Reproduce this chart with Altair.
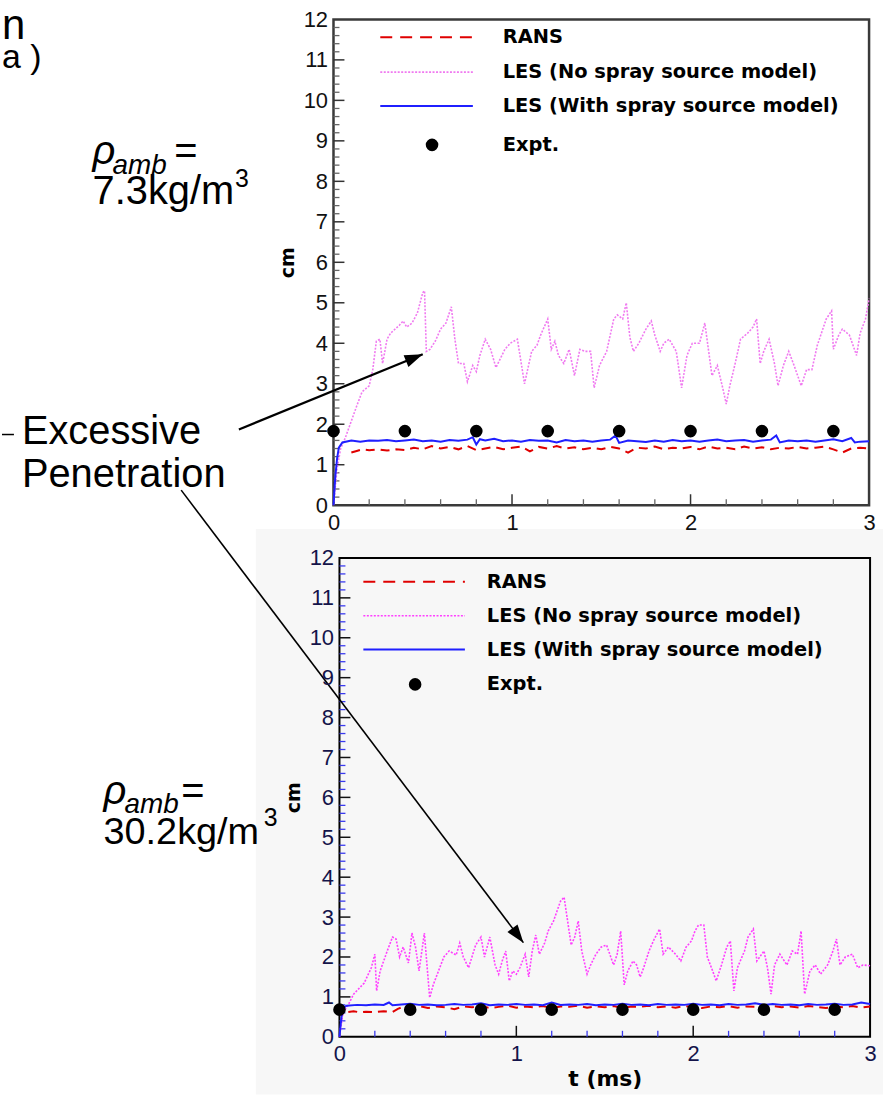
import math
import altair as alt
import pandas as pd

# ---------------- data ----------------
TOP_LES_T = [0, 0.02, 0.04, 0.065, 0.13, 0.16, 0.2, 0.22, 0.24, 0.26, 0.275, 0.3, 0.32, 0.37, 0.39, 0.41, 0.44, 0.47, 0.5, 0.51,
             0.52, 0.54, 0.57, 0.6, 0.63, 0.66, 0.68, 0.7, 0.73, 0.75, 0.78, 0.8, 0.82, 0.85, 0.88, 0.91, 0.96, 0.99, 1.03, 1.07,
             1.11, 1.14, 1.16, 1.2, 1.22, 1.24, 1.26, 1.29, 1.32, 1.35, 1.38, 1.41, 1.44, 1.46, 1.49, 1.53, 1.57, 1.59, 1.62, 1.64,
             1.66, 1.68, 1.71, 1.75, 1.78, 1.8, 1.83, 1.85, 1.88, 1.92, 1.95, 1.98, 2.01, 2.05, 2.08, 2.1, 2.12, 2.15, 2.18, 2.2,
             2.22, 2.25, 2.28, 2.32, 2.35, 2.37, 2.39, 2.41, 2.44, 2.47, 2.49, 2.52, 2.55, 2.58, 2.62, 2.65, 2.68, 2.71, 2.76, 2.79,
             2.8, 2.83, 2.85, 2.89, 2.91, 2.93, 2.95, 2.98, 3.0]
TOP_LES_Y = [0, 0.9, 1.4, 1.65, 2.45, 2.8, 2.95, 3.35, 4.05, 4.1, 3.5, 4.1, 4.25, 4.45, 4.55, 4.4, 4.5, 4.75, 5.25, 5.3,
             3.8, 3.85, 4.05, 4.35, 4.5, 4.9, 4.1, 3.5, 3.5, 3.05, 3.45, 3.3, 3.7, 4.1, 3.85, 3.4, 3.85, 4.0, 4.1, 3.0,
             3.8, 3.95, 4.2, 4.6, 3.85, 4.05, 3.7, 3.5, 3.85, 3.2, 3.85, 3.8, 3.8, 2.9, 3.45, 3.8, 4.6, 4.7, 4.6, 5.0,
             4.15, 3.8, 4.0, 4.35, 4.55, 4.2, 3.8, 4.0, 4.1, 3.8, 2.9, 3.7, 4.0, 4.0, 4.5, 3.85, 3.2, 3.45, 2.9, 2.5,
             2.95, 3.5, 4.1, 4.25, 4.4, 4.6, 3.5, 3.8, 4.1, 3.5, 2.95, 3.45, 3.8, 3.45, 2.95, 3.35, 3.35, 3.95, 4.6, 4.8,
             3.85, 4.2, 4.35, 4.2, 3.95, 3.7, 4.25, 4.6, 5.1]

TOP_BLUE_T = [0, 0.01, 0.02, 0.03, 0.05, 0.1, 0.15, 0.2, 0.25, 0.3, 0.35, 0.4, 0.45, 0.5, 0.55, 0.6, 0.65, 0.7, 0.75, 0.78,
              0.8, 0.82, 0.85, 0.9, 0.95, 1.0, 1.05, 1.1, 1.15, 1.2, 1.25, 1.3, 1.35, 1.4, 1.45, 1.5, 1.55, 1.58, 1.6, 1.65,
              1.7, 1.75, 1.8, 1.85, 1.9, 1.95, 2.0, 2.05, 2.1, 2.15, 2.2, 2.25, 2.3, 2.35, 2.4, 2.45, 2.48, 2.5, 2.55, 2.6,
              2.65, 2.7, 2.75, 2.8, 2.85, 2.9, 2.92, 2.95, 3.0]
TOP_BLUE_Y = [0, 0.7, 1.15, 1.42, 1.55, 1.6, 1.57, 1.6, 1.59, 1.61, 1.58, 1.6, 1.62, 1.58, 1.6, 1.57, 1.61, 1.59, 1.62, 1.68,
              1.5, 1.63, 1.6, 1.64, 1.58, 1.6, 1.57, 1.61, 1.59, 1.6, 1.55, 1.61, 1.58, 1.6, 1.57, 1.6, 1.62, 1.72, 1.54, 1.6,
              1.58, 1.56, 1.6, 1.57, 1.61, 1.58, 1.6, 1.57, 1.6, 1.62, 1.58, 1.6, 1.61, 1.57, 1.6, 1.62, 1.72, 1.55, 1.6, 1.58,
              1.6, 1.57, 1.6, 1.63, 1.58, 1.66, 1.55, 1.57, 1.58]

TOP_RANS_T = [0.1, 0.13, 0.16, 0.2, 0.25, 0.3, 0.35, 0.4, 0.45, 0.5, 0.55, 0.6, 0.65, 0.7, 0.75, 0.8, 0.85, 0.9, 0.95, 1.0,
              1.05, 1.1, 1.15, 1.2, 1.25, 1.3, 1.35, 1.4, 1.45, 1.5, 1.55, 1.6, 1.65, 1.7, 1.75, 1.8, 1.85, 1.9, 1.95, 2.0,
              2.05, 2.1, 2.15, 2.2, 2.25, 2.3, 2.35, 2.4, 2.45, 2.5, 2.55, 2.6, 2.65, 2.7, 2.75, 2.8, 2.85, 2.9, 2.95, 3.0]
TOP_RANS_Y = [1.3, 1.34, 1.38, 1.36, 1.38, 1.35, 1.38, 1.36, 1.42, 1.38, 1.46, 1.4, 1.44, 1.38, 1.46, 1.36, 1.4, 1.44, 1.38, 1.42,
              1.45, 1.33, 1.44, 1.4, 1.46, 1.4, 1.43, 1.38, 1.42, 1.38, 1.44, 1.4, 1.3, 1.42, 1.4, 1.45, 1.38, 1.42, 1.4, 1.44,
              1.38, 1.45, 1.4, 1.42, 1.38, 1.45, 1.4, 1.43, 1.38, 1.42, 1.4, 1.44, 1.4, 1.42, 1.45, 1.38, 1.3, 1.4, 1.42, 1.4]

BOT_LES_T = [0, 0.02, 0.05, 0.08, 0.14, 0.18, 0.2, 0.21, 0.23, 0.27, 0.3, 0.32, 0.34, 0.36, 0.39, 0.41, 0.43, 0.45, 0.48, 0.51,
             0.53, 0.56, 0.59, 0.62, 0.66, 0.68, 0.7, 0.73, 0.77, 0.8, 0.82, 0.85, 0.88, 0.9, 0.92, 0.94, 0.96, 0.98, 1.0, 1.02,
             1.05, 1.07, 1.09, 1.11, 1.13, 1.16, 1.18, 1.21, 1.23, 1.25, 1.27, 1.29, 1.31, 1.33, 1.35, 1.37, 1.4, 1.42, 1.45, 1.48,
             1.51, 1.55, 1.57, 1.59, 1.61, 1.63, 1.66, 1.68, 1.7, 1.72, 1.75, 1.78, 1.81, 1.83, 1.86, 1.9, 1.93, 1.96, 1.99, 2.01,
             2.03, 2.06, 2.08, 2.11, 2.13, 2.16, 2.19, 2.21, 2.23, 2.25, 2.29, 2.31, 2.34, 2.36, 2.4, 2.42, 2.44, 2.46, 2.49, 2.53,
             2.56, 2.59, 2.61, 2.63, 2.66, 2.69, 2.72, 2.76, 2.79, 2.81, 2.83, 2.86, 2.9, 2.93, 2.96, 3.0]
BOT_LES_Y = [0, 0.6, 0.8, 1.07, 1.35, 1.73, 2.07, 1.15, 1.65, 2.15, 2.5, 2.45, 2.0, 2.25, 1.85, 2.6, 2.25, 1.65, 2.6, 0.98,
             1.3, 1.65, 2.0, 2.15, 2.05, 2.35, 2.0, 1.73, 2.3, 2.5, 2.0, 2.5, 1.8, 1.57, 1.9, 2.15, 1.4, 1.65, 1.57, 1.73,
             2.07, 1.5, 2.15, 2.55, 2.07, 2.35, 2.65, 2.9, 3.15, 3.4, 3.5, 2.9, 2.3, 2.5, 2.9, 2.15, 1.57, 1.8, 2.07, 2.25,
             2.3, 1.8, 2.07, 2.65, 1.3, 1.65, 1.9, 1.8, 1.5, 1.73, 2.15, 2.45, 2.7, 2.07, 2.25, 2.07, 1.9, 2.25, 2.4, 2.65,
             2.8, 2.8, 2.0, 1.65, 1.4, 1.8, 2.25, 2.4, 1.15, 1.73, 2.15, 2.5, 2.7, 1.9, 2.15, 1.73, 1.07, 1.8, 2.07, 1.8,
             2.15, 2.07, 2.65, 1.07, 1.65, 1.8, 1.57, 1.8, 2.15, 2.45, 1.8, 2.0, 2.07, 1.73, 1.8, 1.78]

BOT_BLUE_T = [0, 0.01, 0.02, 0.04, 0.1, 0.15, 0.2, 0.25, 0.28, 0.3, 0.35, 0.4, 0.45, 0.5, 0.55, 0.6, 0.65, 0.7, 0.75, 0.8,
              0.85, 0.9, 0.95, 1.0, 1.05, 1.1, 1.15, 1.2, 1.25, 1.3, 1.35, 1.4, 1.45, 1.5, 1.55, 1.6, 1.65, 1.7, 1.75, 1.8,
              1.85, 1.9, 1.95, 2.0, 2.05, 2.1, 2.15, 2.2, 2.25, 2.3, 2.35, 2.4, 2.45, 2.5, 2.55, 2.6, 2.65, 2.7, 2.75, 2.8,
              2.85, 2.9, 2.95, 3.0]
BOT_BLUE_Y = [0, 0.45, 0.72, 0.78, 0.8, 0.79, 0.81, 0.8, 0.86, 0.79, 0.81, 0.83, 0.8, 0.81, 0.79, 0.8, 0.82, 0.8, 0.81, 0.84,
              0.79, 0.81, 0.8, 0.82, 0.8, 0.81, 0.79, 0.86, 0.8, 0.81, 0.8, 0.82, 0.79, 0.81, 0.8, 0.83, 0.8, 0.81, 0.79, 0.82,
              0.8, 0.81, 0.8, 0.83, 0.8, 0.81, 0.79, 0.82, 0.8, 0.81, 0.84, 0.8, 0.82, 0.8, 0.81, 0.79, 0.82, 0.8, 0.81, 0.83,
              0.8, 0.81, 0.86, 0.82]

BOT_RANS_T = [0.05, 0.08, 0.12, 0.15, 0.2, 0.25, 0.3, 0.33, 0.36, 0.4, 0.45, 0.5, 0.55, 0.6, 0.65, 0.7, 0.75, 0.8, 0.85, 0.9,
              0.95, 1.0, 1.05, 1.1, 1.15, 1.2, 1.25, 1.3, 1.35, 1.4, 1.45, 1.5, 1.55, 1.6, 1.65, 1.7, 1.75, 1.8, 1.85, 1.9,
              1.95, 2.0, 2.05, 2.1, 2.15, 2.2, 2.25, 2.3, 2.35, 2.4, 2.45, 2.5, 2.55, 2.6, 2.65, 2.7, 2.75, 2.8, 2.85, 2.9,
              2.95, 3.0]
BOT_RANS_Y = [0.62, 0.64, 0.61, 0.63, 0.62, 0.64, 0.62, 0.7, 0.75, 0.73, 0.77, 0.72, 0.76, 0.74, 0.69, 0.76, 0.74, 0.77, 0.72, 0.75,
              0.78, 0.73, 0.76, 0.74, 0.77, 0.72, 0.76, 0.75, 0.78, 0.73, 0.76, 0.74, 0.77, 0.72, 0.76, 0.75, 0.78, 0.74, 0.76, 0.73,
              0.77, 0.75, 0.72, 0.76, 0.74, 0.77, 0.73, 0.76, 0.75, 0.71, 0.77, 0.74, 0.76, 0.73, 0.77, 0.75, 0.72, 0.76, 0.74, 0.77,
              0.73, 0.76]

EXPT_T = [0.0, 0.4, 0.8, 1.2, 1.6, 2.0, 2.4, 2.8]
TOP_EXPT_Y = [1.83, 1.83, 1.83, 1.83, 1.83, 1.83, 1.83, 1.83]
BOT_EXPT_Y = [0.68, 0.68, 0.68, 0.68, 0.68, 0.68, 0.68, 0.68]

LEGEND_LABELS = ["RANS", "LES (No spray source model)", "LES (With spray source model)", "Expt."]
X_TICK_VALUES = [0, 1, 2, 3]
Y_TICK_VALUES = [0, 1, 2, 3, 4, 5, 6, 7, 8, 9, 10, 11, 12]

# ---------------- styling ----------------
RED = "#e00000"
BLUE = "#1f1fff"
SANS = "Liberation Sans"
WIDE = "DejaVu Sans"


def df(t, y):
    return pd.DataFrame({"t": t, "y": y})


ONE = pd.DataFrame({"k": [0]})


def text_layer(s, x, y, size, weight="normal", style="normal", font=SANS, align="left", baseline="alphabetic", color="black"):
    return alt.Chart(pd.DataFrame({"label": [s]})).mark_text(
        align=align, baseline=baseline, fontSize=size, font=font, fontWeight=weight, fontStyle=style, color=color
    ).encode(x=alt.value(x), y=alt.value(y), text="label:N")


def panel(W, H, les, rans, blue, expt_y, pink, label_color, minor_color, major_color, x_title, legend, extras_before, extras_after):
    X = alt.X("t:Q", title=x_title,
              scale=alt.Scale(domain=[0, 3], nice=False, zero=False),
              axis=alt.Axis(values=X_TICK_VALUES, format="d", ticks=False, tickSize=0, domain=False, grid=False,
                            labelFont=SANS, labelFontSize=22, labelColor=label_color, labelPadding=7,
                            labelFlush=False, labelOverlap=False, zindex=1,
                            titleFont=WIDE, titleFontWeight="bold", titleFontSize=22, titleColor="black", titlePadding=4))
    Y = alt.Y("y:Q", title="cm",
              scale=alt.Scale(domain=[0, 12], nice=False, zero=False),
              axis=alt.Axis(values=Y_TICK_VALUES, format="d", ticks=False, tickSize=0, domain=False, grid=False,
                            labelFont=SANS, labelFontSize=22, labelColor=label_color, labelPadding=6,
                            labelOverlap=False, zindex=1,
                            titleFont=WIDE, titleFontWeight="bold", titleFontSize=19, titleColor="black", titlePadding=6))

    layers = list(extras_before)

    # inside ticks drawn through the scales
    y_minor = [round(i * 0.2, 1) for i in range(1, 60) if i % 5 != 0]
    y_major = [float(v) for v in Y_TICK_VALUES[1:-1]]
    x_minor = [round(i * 0.2, 1) for i in range(1, 15) if i % 5 != 0]
    x_major = [1.0, 2.0]
    layers.append(alt.Chart(pd.DataFrame({"y": y_minor})).mark_rule(color=minor_color, strokeWidth=1.3)
                  .encode(y=Y, x=alt.value(0), x2=alt.value(6)))
    layers.append(alt.Chart(pd.DataFrame({"y": y_major})).mark_rule(color=major_color, strokeWidth=1.5)
                  .encode(y=Y, x=alt.value(0), x2=alt.value(11)))
    layers.append(alt.Chart(pd.DataFrame({"t": x_minor})).mark_rule(color=minor_color, strokeWidth=1.3)
                  .encode(x=X, y=alt.value(H), y2=alt.value(H - 6)))
    layers.append(alt.Chart(pd.DataFrame({"t": x_major})).mark_rule(color=major_color, strokeWidth=1.5)
                  .encode(x=X, y=alt.value(H), y2=alt.value(H - 11)))

    # data series
    layers.append(alt.Chart(les).mark_line(color=pink, strokeWidth=1.6, strokeDash=[2, 1.5]).encode(x=X, y=Y))
    layers.append(alt.Chart(rans).mark_line(color=RED, strokeWidth=2, strokeDash=[9, 6]).encode(x=X, y=Y))
    layers.append(alt.Chart(blue).mark_line(color=BLUE, strokeWidth=2).encode(x=X, y=Y))
    layers.append(alt.Chart(df(EXPT_T, expt_y)).mark_point(filled=True, color="black", size=160, opacity=1)
                  .encode(x=X, y=Y))

    # legend (inside the frame)
    x1, x2, xt, rows, mx = legend
    layers.append(alt.Chart(ONE).mark_rule(color=RED, strokeWidth=2, strokeDash=[12, 8])
                  .encode(x=alt.value(x1), x2=alt.value(x2), y=alt.value(rows[0])))
    layers.append(alt.Chart(ONE).mark_rule(color=pink, strokeWidth=1.6, strokeDash=[2, 1.5])
                  .encode(x=alt.value(x1), x2=alt.value(x2), y=alt.value(rows[1])))
    layers.append(alt.Chart(ONE).mark_rule(color=BLUE, strokeWidth=2)
                  .encode(x=alt.value(x1), x2=alt.value(x2), y=alt.value(rows[2])))
    layers.append(alt.Chart(ONE).mark_point(filled=True, color="black", size=160, opacity=1)
                  .encode(x=alt.value(mx), y=alt.value(rows[3])))
    for lab, ry in zip(LEGEND_LABELS, rows):
        layers.append(text_layer(lab, xt, ry, 19.5, weight="bold", font=WIDE, baseline="middle"))

    layers.extend(extras_after(X, Y))
    return layers


ARROW_PATH = "M0,0L-0.7,2L0.7,2Z"


def arrow(X, Y, t0, y0, t1, y1, W, H, width):
    pxm = W / 3.0
    pyu = H / 12.0
    dx = (t1 - t0) * pxm
    dy = -(y1 - y0) * pyu
    ang = math.degrees(math.atan2(dx, -dy)) % 360
    seg = alt.Chart(pd.DataFrame({"t": [t0], "t2": [t1], "y": [y0], "y2": [y1]})).mark_rule(
        color="black", strokeWidth=width).encode(x=X, x2="t2:Q", y=Y, y2="y2:Q")
    head = alt.Chart(pd.DataFrame({"t": [t1], "y": [y1]})).mark_point(
        shape=ARROW_PATH, filled=True, color="black", opacity=1, size=330, angle=ang, strokeWidth=0
    ).encode(x=X, y=Y)
    return [seg, head]


# ---------------- top panel ----------------
TW, TH = 538, 488          # plot origin on page: (333, 15)

top_before = [
    # faint grey page area behind the lower graph (page x 255..885, y 527..1095)
    alt.Chart(ONE).mark_rect(color="#f7f7f7").encode(
        x=alt.value(-78), x2=alt.value(552), y=alt.value(512), y2=alt.value(1080))
]


def top_after(X, Y):
    out = []
    out.append(alt.Chart(ONE).mark_point(filled=True, size=1, opacity=0, strokeWidth=0)
               .encode(x=alt.value(-333), y=alt.value(-15)))
    out.append(text_layer("n", -333, 20, 42))
    out.append(text_layer("a )", -333, 49, 34))
    out.append(text_layer("ρ", -242, 145, 40, style="italic"))
    out.append(text_layer("amb", -222, 155, 28, style="italic"))
    out.append(text_layer("=", -160, 145, 40))
    out.append(text_layer("7.3kg/m", -242, 185, 40))
    out.append(text_layer("3", -99, 168, 25))
    out.append(text_layer("Excessive", -313, 427, 40))
    out.append(text_layer("Penetration", -313, 470, 40))
    out.append(alt.Chart(ONE).mark_rule(color="black", strokeWidth=1.5)
               .encode(x=alt.value(-333), x2=alt.value(-321), y=alt.value(417), y2=alt.value(417)))
    out.extend(arrow(X, Y, -0.53, 1.87, 0.5, 3.73, TW, TH, 2.2))
    return out


top_layers = panel(
    TW, TH, df(TOP_LES_T, TOP_LES_Y), df(TOP_RANS_T, TOP_RANS_Y), df(TOP_BLUE_T, TOP_BLUE_Y), TOP_EXPT_Y,
    "#f07af0", "#111111", "#666666", "#333333", "",
    (47, 140, 170, [18, 53, 87, 126], 99),
    top_before, top_after)

top = alt.layer(*top_layers).properties(
    width=TW, height=TH, view=alt.ViewBackground(stroke="#3a3a3a", strokeWidth=2.5))

# ---------------- bottom panel ----------------
BW, BH = 533, 481          # plot origin on page: (339, 556)


def bottom_after(X, Y):
    out = []
    out.append(text_layer("ρ", -237, 247, 40, style="italic"))
    out.append(text_layer("amb", -216, 256, 28, style="italic"))
    out.append(text_layer("=", -159, 247, 40))
    out.append(text_layer("30.2kg/m", -237, 287, 38))
    out.append(text_layer("3", -76, 269, 25))
    out.extend(arrow(X, Y, -0.895, 13.7, 1.04, 2.36, BW, BH, 1.6))
    return out


bottom_layers = panel(
    BW, BH, df(BOT_LES_T, BOT_LES_Y), df(BOT_RANS_T, BOT_RANS_Y), df(BOT_BLUE_T, BOT_BLUE_Y), BOT_EXPT_Y,
    "#ff40ff", "#14144a", "#3a3aee", "#111111", "t (ms)",
    (24, 126, 148, [24, 58, 92, 127], 76),
    [], bottom_after)

bottom = alt.layer(*bottom_layers).properties(
    width=BW, height=BH, view=alt.ViewBackground(stroke="black", strokeWidth=2))

spacer = alt.Chart(ONE).mark_point(opacity=0, size=1).encode(x=alt.value(0), y=alt.value(0)).properties(
    width=6, height=BH, view=alt.ViewBackground(strokeOpacity=0))

bottom_row = alt.hconcat(spacer, bottom, spacing=0, bounds="flush")

chart = alt.vconcat(top, bottom_row, spacing=53, bounds="flush", padding=0).configure(background="white")

chart.save("out.html", embed_options={"renderer": "svg", "actions": False})
